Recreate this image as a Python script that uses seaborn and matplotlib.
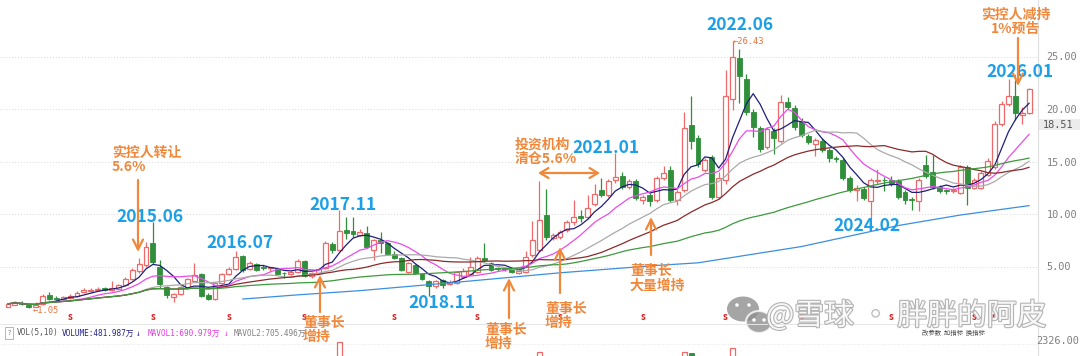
import numpy as np
import pandas as pd
import matplotlib
matplotlib.use("Agg")
import matplotlib.pyplot as plt
import seaborn as sns
from matplotlib import patheffects as pe
from matplotlib.patches import Ellipse, Rectangle

# Monthly K-line, 2013.09 - 2026.01 (forward adjusted)
opens = [1.15, 1.35, 1.55, 1.3, 1.15, 1.4, 2.25, 2.0, 1.95, 2.0,
         2.2, 2.6, 2.7, 2.8, 2.95, 2.8, 2.9, 3.2, 3.8, 4.6,
         5.1, 7.2, 5.0, 3.0, 2.1, 2.4, 3.0, 3.6, 4.3, 2.3,
         1.9, 3.4, 4.3, 4.8, 6.0, 4.8, 5.2, 4.95, 4.85, 4.8,
         4.4, 4.3, 4.5, 5.5, 4.1, 4.4, 4.9, 7.1, 6.6, 8.5,
         8.4, 8.0, 8.2, 6.6, 7.5, 7.2, 6.2, 5.8, 4.5, 5.1,
         4.3, 3.6, 3.1, 3.7, 3.3, 3.4, 4.0, 4.3, 4.5, 5.8,
         5.3, 4.9, 4.8, 4.8, 4.35, 4.5, 6.1, 6.6, 9.9, 7.7,
         7.8, 8.5, 9.2, 9.8, 9.7, 11.0, 12.3, 11.8, 13.2, 13.6,
         12.6, 13.1, 11.3, 11.8, 11.3, 13.4, 14.2, 11.3, 12.3, 18.5,
         17.2, 14.2, 15.4, 11.6, 13.2, 21.0, 24.9, 22.9, 19.7, 18.2,
         16.4, 17.9, 17.0, 20.7, 20.1, 18.9, 17.4, 16.7, 17.0, 16.1,
         15.3, 15.1, 13.4, 12.3, 12.4, 11.2, 13.1, 13.25, 13.2, 13.1,
         12.1, 11.4, 11.2, 14.7, 14.0, 12.6, 12.25, 12.2, 12.0, 14.5,
         12.5, 12.5, 13.7, 14.5, 18.6, 20.5, 21.2, 19.4, 19.6]
highs = [1.55, 1.7, 1.7, 1.35, 1.6, 2.4, 2.6, 2.2, 2.2, 2.35,
         2.7, 3.0, 3.0, 3.05, 3.05, 3.6, 3.35, 4.0, 4.9, 5.8,
         7.3, 9.2, 5.6, 3.1, 2.5, 3.1, 3.9, 5.3, 4.4, 2.5,
         3.5, 4.4, 5.0, 6.5, 6.1, 5.5, 5.3, 5.1, 5.0, 4.9,
         4.5, 4.6, 5.7, 5.6, 4.5, 4.9, 7.4, 7.3, 10.4, 9.7,
         9.7, 8.6, 8.9, 7.6, 8.3, 7.3, 6.5, 5.9, 5.4, 5.2,
         4.4, 3.7, 3.7, 3.8, 3.7, 4.6, 4.9, 5.9, 6.0, 7.2,
         5.4, 5.0, 4.9, 4.9, 4.7, 6.5, 9.3, 13.1, 12.4, 8.2,
         8.5, 9.4, 11.3, 10.4, 11.8, 12.9, 13.4, 13.3, 15.8, 14.0,
         13.3, 13.3, 11.8, 12.0, 13.6, 14.6, 14.6, 12.3, 19.7, 21.2,
         17.5, 15.3, 15.6, 14.0, 23.7, 26.43, 25.7, 23.3, 20.0, 18.4,
         18.3, 18.2, 21.3, 21.1, 20.4, 19.1, 17.6, 17.2, 17.2, 16.3,
         15.5, 15.3, 13.6, 12.8, 12.6, 13.4, 14.3, 13.5, 13.6, 13.3,
         12.3, 11.6, 13.4, 15.6, 15.6, 12.8, 12.4, 12.5, 14.7, 14.7,
         13.4, 14.1, 15.3, 18.9, 20.8, 22.9, 22.8, 20.2, 22.0]
lows = [1.1, 1.3, 1.3, 1.05, 1.1, 1.35, 1.8, 1.8, 1.85, 1.95,
        2.1, 2.5, 2.6, 2.7, 2.7, 2.7, 2.85, 3.1, 3.7, 4.4,
        5.0, 5.2, 3.0, 2.0, 1.6, 2.3, 2.9, 3.5, 2.1, 1.8,
        1.8, 3.3, 4.2, 4.7, 4.5, 4.7, 4.6, 4.7, 4.6, 4.2,
        3.9, 4.2, 4.4, 4.0, 3.9, 4.3, 4.8, 6.3, 6.5, 7.6,
        7.8, 7.9, 6.8, 5.6, 6.3, 6.1, 5.7, 4.6, 4.4, 4.3,
        3.7, 2.2, 3.0, 3.0, 3.2, 3.3, 3.9, 4.2, 4.4, 5.4,
        4.6, 4.6, 4.6, 4.4, 4.3, 4.4, 5.9, 6.4, 7.5, 7.5,
        7.6, 8.3, 9.0, 9.2, 9.5, 10.8, 11.6, 11.6, 13.0, 12.4,
        12.4, 11.3, 11.0, 10.8, 11.1, 13.2, 11.1, 10.9, 12.1, 16.2,
        14.5, 14.0, 11.4, 11.4, 12.9, 19.9, 20.6, 19.4, 17.3, 15.9,
        16.2, 15.7, 16.8, 20.0, 18.0, 17.3, 16.7, 15.5, 15.9, 15.0,
        15.0, 13.2, 12.1, 11.2, 11.3, 9.6, 12.9, 12.2, 12.7, 11.4,
        11.0, 10.4, 10.3, 13.4, 12.4, 12.0, 11.9, 12.0, 11.9, 10.9,
        12.4, 12.4, 13.6, 14.3, 18.4, 20.3, 19.0, 18.6, 19.5]
closes = [1.45, 1.6, 1.4, 1.15, 1.35, 2.2, 1.9, 1.95, 2.05, 2.2,
          2.5, 2.75, 2.8, 2.9, 2.8, 3.0, 3.25, 3.8, 4.7, 5.2,
          6.9, 5.4, 3.3, 2.3, 2.4, 3.0, 3.8, 4.2, 2.2, 1.9,
          3.4, 4.3, 4.8, 5.9, 4.7, 5.3, 4.7, 4.9, 4.9, 4.3,
          4.35, 4.45, 5.5, 4.1, 4.4, 4.8, 7.2, 6.6, 8.4, 8.2,
          8.1, 8.3, 6.9, 7.5, 7.2, 6.2, 5.8, 4.7, 5.3, 4.4,
          3.8, 3.1, 3.6, 3.2, 3.5, 4.5, 4.6, 5.0, 5.8, 5.6,
          4.7, 4.75, 4.75, 4.5, 4.6, 5.9, 7.5, 9.4, 7.8, 8.0,
          8.3, 9.2, 9.7, 9.6, 10.6, 11.9, 11.8, 13.1, 13.5, 12.6,
          13.1, 11.5, 11.6, 11.2, 13.4, 13.9, 11.3, 12.1, 18.2, 17.0,
          14.8, 15.1, 11.6, 13.4, 21.2, 25.0, 23.1, 19.7, 18.3, 16.2,
          18.1, 17.2, 20.7, 20.2, 18.3, 17.5, 16.9, 17.0, 16.1, 15.3,
          15.2, 13.4, 12.3, 12.5, 11.5, 13.2, 13.2, 13.2, 12.9, 11.6,
          11.3, 11.3, 13.2, 13.6, 12.6, 12.2, 12.2, 12.25, 14.5, 12.5,
          13.2, 13.9, 15.0, 18.6, 20.5, 21.2, 19.6, 19.6, 21.9]

# long (120-month) average
ma120_idx = [34, 42, 51, 65, 80, 94, 100, 115, 129, 138, 148]
ma120_val = [1.9, 2.3, 2.7, 3.5, 4.4, 5.1, 5.35, 6.9, 8.9, 9.9, 10.8]

# volume bars that reach into view (万)
vol_idx = [48, 77, 98, 99, 105]
vol_val = [2270, 1980, 1980, 1950, 2090]

# dividend marks
div_idx = [9, 21, 32, 43, 56, 68, 80, 92, 104, 115, 128, 140, 143]

y_ticks = [5, 10, 15, 20, 25]
last_price = 18.51
vol_top = 2326.00

df = pd.DataFrame({"open": opens, "high": highs, "low": lows, "close": closes})
df["i"] = np.arange(len(df))
df["month"] = pd.period_range("2013-09", periods=len(df), freq="M")
up = df["close"] >= df["open"]

sns.set_theme(style="white")
plt.rcParams["font.family"] = ["Noto Sans CJK SC", "DejaVu Sans"]
plt.rcParams["axes.unicode_minus"] = False

RED = "#ee6a6a"
GREEN = "#2f8f3a"
BLUE_TXT = "#1c9fe6"
ORANGE = "#f0883c"
MONO = ["DejaVu Sans Mono", "Noto Sans CJK SC"]

W, H = 1080, 356
X0, DX = 8, 6.9          # pixel of first candle, pixels per month
fig = plt.figure(figsize=(W / 100, H / 100), dpi=100)
fig.patch.set_facecolor("white")

# price panel
ax = fig.add_axes([0, 1 - 318 / H, 1038 / W, 318 / H])
ax.set_xlim(-X0 / DX, (1038 - X0) / DX)
ax.set_ylim(1 / 10.5, 319 / 10.5)
ax.patch.set_alpha(0)
for s in ax.spines.values():
    s.set_visible(False)

for v in y_ticks:
    ax.axhline(v, color="#d8d8d8", lw=0.7, ls=(0, (1, 2)), zorder=0)

# candles
u = df[up]
d = df[~up]
ax.vlines(u["i"], u["close"], u["high"], color=RED, lw=0.9, zorder=2)
ax.vlines(u["i"], u["low"], u["open"], color=RED, lw=0.9, zorder=2)
ax.bar(u["i"], np.maximum(u["close"] - u["open"], 0.06), bottom=u["open"], width=0.7,
       facecolor="white", edgecolor=RED, linewidth=0.9, zorder=3)
ax.vlines(d["i"], d["low"], d["high"], color=GREEN, lw=0.9, zorder=2)
ax.bar(d["i"], np.maximum(d["open"] - d["close"], 0.06), bottom=d["close"], width=0.7,
       facecolor=GREEN, edgecolor=GREEN, linewidth=0.6, zorder=3)

# moving averages
ma_styles = [(5, "#1e1e78"), (10, "#ea4cea"), (20, "#aaaaaa"), (30, "#8c2a2a"), (60, "#3d9a3d")]
for w, c in ma_styles:
    ma = df["close"].rolling(w, min_periods=1).mean()
    sns.lineplot(x=df["i"], y=ma, ax=ax, color=c, lw=0.9, estimator=None, zorder=4)
sns.lineplot(x=ma120_idx, y=ma120_val, ax=ax, color="#3b8fe0", lw=0.9, estimator=None, zorder=4)
ax.set_xlabel("")
ax.set_ylabel("")
ax.set_xticks([])

ax.yaxis.tick_right()
ax.set_yticks(y_ticks)
ax.set_yticklabels([f"{v:.2f}" for v in y_ticks], fontfamily=MONO, fontsize=7.4, color="#808080")
ax.tick_params(axis="y", length=0, pad=6)

for i in div_idx:
    ax.text(i, 0.2, "s", color="#e02020", fontsize=7, fontweight="bold",
            ha="center", va="center", clip_on=False, zorder=5)

# lowest low marker
lo_i = int(df["low"].idxmin())
ax.annotate(f"←{df['low'].min():.2f}", xy=(lo_i, df["low"].min()), xytext=(3, -2),
            textcoords="offset points", fontfamily=MONO, fontsize=6.3, color="#e8703a",
            ha="left", va="center", zorder=5)

# volume panel (only the tops of the tallest bars show)
vax = fig.add_axes([0, 1 - 420 / H, 1038 / W, 80 / H])
vax.set_xlim(ax.get_xlim())
vax.set_ylim(0, vol_top)
vax.axis("off")
for i, v in zip(vol_idx, vol_val):
    if up[i]:
        vax.bar(i, v, width=0.7, facecolor="white", edgecolor=RED, linewidth=0.9)
    else:
        vax.bar(i, v, width=0.7, facecolor=GREEN, edgecolor=GREEN, linewidth=0.6)

# overlay in pixel space for texts and arrows
ov = fig.add_axes([0, 0, 1, 1], zorder=10)
ov.set_xlim(0, W)
ov.set_ylim(H, 0)
ov.axis("off")

ov.plot([1038, 1038], [0, H], color="#dedede", lw=0.8)
ov.plot([0, 1038], [324, 324], color="#e6e6e6", lw=0.7)
ov.plot([0, 1038], [344, 344], color="#e0e0e0", lw=0.6, ls=(0, (1, 2)))

ov.text(1037 + 21, 341, f"{vol_top:.2f}", fontfamily=MONO, fontsize=7.4, color="#808080",
        ha="center", va="center")
py = 319 - last_price * 10.5
ov.add_patch(Rectangle((1039, py - 5.5), 41, 11, facecolor="#ececec", edgecolor="none"))
ov.text(1058, py, f"{last_price:.2f}", fontfamily=MONO, fontsize=7.4, color="#555555",
        ha="center", va="center")

# volume legend row
ov.text(9, 333, "?", fontsize=5, color="#777777", ha="center", va="center",
        bbox=dict(boxstyle="square,pad=0.3", fc="white", ec="#aaaaaa", lw=0.6))
row = [(17, "VOL(5,10)", "#555555"), (62, "VOLUME:481.987万", "#23238c"), (136, "↓", "#23238c"),
       (148, "MAVOL1:690.979万", "#e23ce2"), (224, "↓", "#e23ce2"), (234, "MAVOL2:705.496万", "#808080")]
for x, t, c in row:
    ov.text(x, 333, t, fontfamily=MONO, fontsize=5.6, color=c, ha="left", va="center")

# period labels
dates = [("2015.06", 150, 217), ("2016.07", 240, 243), ("2017.11", 343, 205), ("2018.11", 442, 303),
         ("2021.01", 606, 148), ("2022.06", 740, 25), ("2024.02", 867, 226), ("2026.01", 1020, 72)]
for t, x, y in dates:
    ov.text(x, y, t, color=BLUE_TXT, fontsize=12.5, fontweight="bold", ha="center", va="center")

notes = [("实控人转让\n5.6%", 112, 160, "left"), ("董事长\n增持", 303, 330, "left"),
         ("董事长\n增持", 485, 337, "left"), ("董事长\n增持", 545, 316, "left"),
         ("董事长\n大量增持", 630, 278, "left"), ("投资机构\n清仓5.6%", 515, 152, "left"),
         ("实控人减持\n1%预告", 1016, 22, "center")]
for t, x, y, ha in notes:
    ov.text(x, y, t, color=ORANGE, fontsize=10, fontweight="bold", ha=ha, va="center",
            multialignment=ha, linespacing=1.05)

arrows = [((138, 180), (138, 252)), ((320, 312), (320, 275)), ((509, 318), (509, 278)),
          ((560, 293), (560, 247)), ((651, 255), (651, 217)), ((1018, 38), (1018, 86))]
for a, b in arrows:
    ov.annotate("", xy=b, xytext=a, arrowprops=dict(arrowstyle="->,head_length=0.6,head_width=0.3",
                                                    color=ORANGE, lw=1.6, shrinkA=0, shrinkB=0))
ov.annotate("", xy=(600, 173), xytext=(538, 173),
            arrowprops=dict(arrowstyle="<->,head_length=0.5,head_width=0.3", color=ORANGE, lw=1.6,
                            shrinkA=0, shrinkB=0))

ov.text(733, 41, f"←{highs[105]:.2f}", fontfamily=MONO, fontsize=6.3, color="#e8703a",
        ha="left", va="center")

# watermark
ov.text(922, 333, "改参数  加指标  换指标", fontsize=4.6, color="#444444", ha="left", va="center")
ov.add_patch(Ellipse((743, 309), 32, 25, facecolor="#8f8f8f", edgecolor="none", alpha=0.8))
ov.add_patch(Ellipse((759, 322), 26, 22, facecolor="#8f8f8f", edgecolor="white", lw=1.5, alpha=0.8))
for ex, ey in [(737, 305), (749, 305), (754, 320), (764, 320)]:
    ov.add_patch(Ellipse((ex, ey), 3.5, 3.5, facecolor="white", edgecolor="none"))
ov.text(766, 316, "@雪球 · 胖胖的阿皮", fontsize=21.5, color="white", alpha=0.9, ha="left", va="center",
        path_effects=[pe.withStroke(linewidth=1.6, foreground="#ababab")])

fig.savefig("out.png", dpi=100, facecolor="white")
